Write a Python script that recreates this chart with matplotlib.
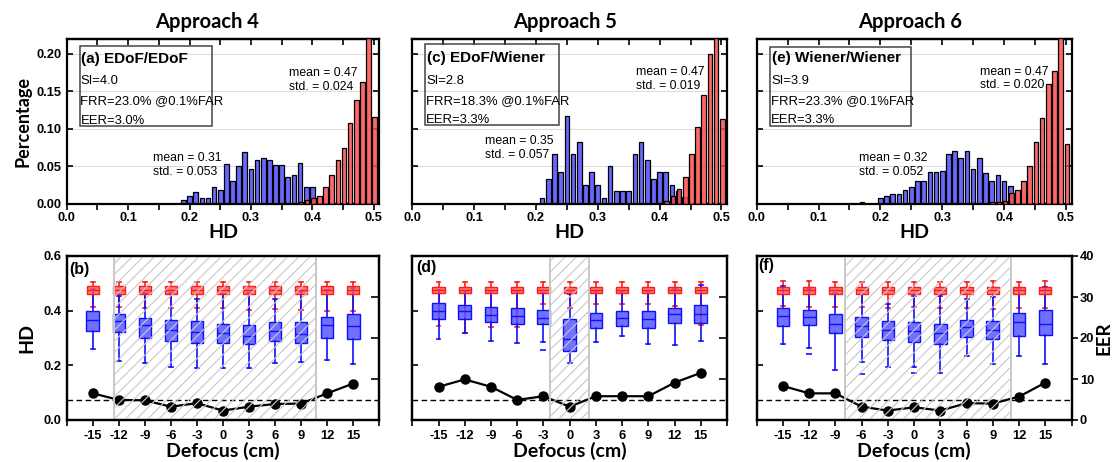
import numpy as np
import matplotlib.pyplot as plt
from matplotlib import font_manager
from matplotlib.patches import Rectangle
from matplotlib.ticker import MultipleLocator, FormatStrFormatter

# keep the regular-width Liberation Sans faces only
font_manager.fontManager.ttflist = [f for f in font_manager.fontManager.ttflist
                                    if 'Narrow' not in f.fname]
plt.rcParams['font.family'] = ['Liberation Sans', 'DejaVu Sans']
plt.rcParams['hatch.linewidth'] = 0.8
plt.rcParams['axes.linewidth'] = 1.6

# ---------------- histogram data (bin width 0.01) ----------------
approach_titles = ['Approach 4', 'Approach 5', 'Approach 6']
hist_tags = ['(a) EDoF/EDoF', '(c) EDoF/Wiener', '(e) Wiener/Wiener']
hist_si = ['SI=4.0', 'SI=2.8', 'SI=3.9']
hist_frr = ['FRR=23.0% @0.1%FAR', 'FRR=18.3% @0.1%FAR', 'FRR=23.3% @0.1%FAR']
hist_eer = ['EER=3.0%', 'EER=3.3%', 'EER=3.3%']
impostor_stats = ['mean = 0.47\nstd. = 0.024', 'mean = 0.47\nstd. = 0.019', 'mean = 0.47\nstd. = 0.020']
genuine_stats = ['mean = 0.31\nstd. = 0.053', 'mean = 0.35\nstd. = 0.057', 'mean = 0.32\nstd. = 0.052']

# first bin centre of each series
blue_start = [0.19, 0.21, 0.17]
red_start = [0.38, 0.40, 0.38]

blue_a = [0.005, 0.011, 0.016, 0.008, 0.008, 0.022, 0.019, 0.053, 0.030, 0.050, 0.069,
          0.047, 0.058, 0.061, 0.058, 0.052, 0.052, 0.036, 0.038, 0.055, 0.022, 0.022]
red_a = [0.003, 0.005, 0.008, 0.011, 0.023, 0.038, 0.059, 0.075, 0.108, 0.139, 0.162, 0.235, 0.116]

blue_c = [0.008, 0.033, 0.067, 0.042, 0.117, 0.067, 0.083, 0.025, 0.042, 0.025, 0.008, 0.050,
          0.017, 0.017, 0.017, 0.067, 0.083, 0.058, 0.033, 0.042, 0.042, 0.025, 0.017, 0.009]
red_c = [0.001, 0.004, 0.010, 0.020, 0.036, 0.066, 0.102, 0.145, 0.200, 0.235, 0.113]

blue_e = [0.002, 0.0, 0.0, 0.008, 0.011, 0.013, 0.013, 0.019, 0.022, 0.030, 0.030, 0.042, 0.042,
          0.044, 0.067, 0.070, 0.061, 0.070, 0.047, 0.061, 0.041, 0.030, 0.038, 0.030, 0.024]
red_e = [0.002, 0.002, 0.004, 0.015, 0.019, 0.030, 0.050, 0.083, 0.115, 0.160, 0.177, 0.235, 0.080]

# ---------------- defocus box plots ----------------
defocus = [-15, -12, -9, -6, -3, 0, 3, 6, 9, 12, 15]
box_tags = ['(b)', '(d)', '(f)']

# rows: whisker low, q1, median, q3, whisker high
blue_b = [[0.259, 0.217, 0.207, 0.193, 0.189, 0.189, 0.191, 0.207, 0.211, 0.220, 0.206],
          [0.326, 0.321, 0.301, 0.290, 0.283, 0.280, 0.277, 0.289, 0.280, 0.300, 0.295],
          [0.365, 0.362, 0.348, 0.329, 0.321, 0.317, 0.307, 0.327, 0.313, 0.346, 0.344],
          [0.399, 0.389, 0.372, 0.366, 0.361, 0.351, 0.349, 0.360, 0.357, 0.378, 0.388],
          [0.478, 0.454, 0.463, 0.466, 0.444, 0.461, 0.463, 0.444, 0.472, 0.476, 0.482]]
red_b = [[0.415, 0.415, 0.411, 0.410, 0.409, 0.409, 0.402, 0.405, 0.402, 0.400, 0.400],
         [0.460, 0.460, 0.460, 0.460, 0.460, 0.460, 0.460, 0.460, 0.460, 0.460, 0.460],
         [0.476, 0.476, 0.476, 0.476, 0.476, 0.476, 0.476, 0.476, 0.476, 0.476, 0.476],
         [0.490, 0.490, 0.490, 0.490, 0.490, 0.490, 0.490, 0.490, 0.490, 0.490, 0.490],
         [0.506, 0.506, 0.506, 0.504, 0.506, 0.506, 0.506, 0.506, 0.506, 0.505, 0.505]]
fliers_b = [[], [], [], [], [], [], [], [], [], [], []]
eer_b = [6.5, 4.9, 4.8, 3.25, 4.1, 2.3, 3.25, 3.9, 4.0, 6.5, 8.9]

blue_d = [[0.298, 0.317, 0.289, 0.283, 0.284, 0.207, 0.285, 0.307, 0.278, 0.274, 0.288],
          [0.368, 0.371, 0.359, 0.351, 0.350, 0.254, 0.335, 0.345, 0.337, 0.355, 0.354],
          [0.399, 0.399, 0.384, 0.379, 0.374, 0.296, 0.366, 0.372, 0.370, 0.388, 0.388],
          [0.427, 0.420, 0.415, 0.410, 0.402, 0.371, 0.393, 0.400, 0.400, 0.411, 0.420],
          [0.476, 0.473, 0.472, 0.472, 0.463, 0.461, 0.472, 0.472, 0.472, 0.478, 0.495]]
red_d = [[0.344, 0.320, 0.339, 0.340, 0.424, 0.410, 0.423, 0.424, 0.423, 0.418, 0.348],
         [0.463, 0.463, 0.463, 0.463, 0.463, 0.463, 0.463, 0.463, 0.463, 0.463, 0.463],
         [0.476, 0.476, 0.476, 0.476, 0.476, 0.476, 0.476, 0.476, 0.476, 0.476, 0.476],
         [0.488, 0.488, 0.488, 0.488, 0.488, 0.488, 0.488, 0.488, 0.488, 0.488, 0.488],
         [0.505, 0.505, 0.505, 0.504, 0.505, 0.505, 0.505, 0.504, 0.505, 0.505, 0.505]]
fliers_d = [[], [], [], [], [0.256], [], [], [], [], [], []]
eer_d = [8.1, 9.9, 8.1, 4.9, 5.8, 3.25, 5.8, 5.8, 5.8, 9.1, 11.5]

blue_f = [[0.278, 0.262, 0.183, 0.213, 0.195, 0.195, 0.171, 0.234, 0.204, 0.234, 0.204],
          [0.343, 0.346, 0.318, 0.302, 0.293, 0.285, 0.279, 0.305, 0.298, 0.307, 0.312],
          [0.380, 0.376, 0.351, 0.343, 0.329, 0.324, 0.317, 0.339, 0.329, 0.360, 0.351],
          [0.409, 0.404, 0.388, 0.378, 0.361, 0.359, 0.351, 0.365, 0.362, 0.390, 0.401],
          [0.491, 0.479, 0.463, 0.460, 0.424, 0.454, 0.454, 0.444, 0.451, 0.482, 0.488]]
red_f = [[0.418, 0.415, 0.415, 0.415, 0.409, 0.413, 0.409, 0.409, 0.406, 0.410, 0.410],
         [0.460, 0.460, 0.460, 0.460, 0.460, 0.460, 0.460, 0.460, 0.460, 0.460, 0.460],
         [0.476, 0.476, 0.476, 0.476, 0.476, 0.476, 0.476, 0.476, 0.476, 0.476, 0.476],
         [0.488, 0.488, 0.488, 0.488, 0.488, 0.488, 0.488, 0.488, 0.488, 0.488, 0.488],
         [0.507, 0.507, 0.505, 0.505, 0.505, 0.505, 0.505, 0.505, 0.507, 0.505, 0.507]]
fliers_f = [[], [0.240], [], [0.168], [], [0.171], [], [], [], [], []]
eer_f = [8.3, 6.5, 6.5, 3.25, 2.3, 3.1, 2.3, 4.1, 4.0, 5.7, 9.1]

eer_threshold = 5.0
# hatched defocus ranges (cm)
shade_ranges = [(-12.5, 10.7), (-2.25, 2.25), (-7.9, 11.1)]

hist_blue = [blue_a, blue_c, blue_e]
hist_red = [red_a, red_c, red_e]
box_blue = [blue_b, blue_d, blue_f]
box_red = [red_b, red_d, red_f]
box_fliers = [fliers_b, fliers_d, fliers_f]
eer_lines = [eer_b, eer_d, eer_f]

# ---------------- layout (pixels -> figure fractions) ----------------
W, H = 1113, 462
cols = [(66.7, 379.3), (412.3, 727.0), (756.7, 1071.5)]
top_rows = (39, 204)
bot_rows = (256, 420)

# text positions inside histogram panels (axes fractions)
box_rects = [(0.044, 0.475, 0.421, 0.483), (0.041, 0.479, 0.425, 0.493), (0.042, 0.475, 0.447, 0.475)]
text_x = [0.047, 0.047, 0.049]
text_y = [(0.879, 0.745, 0.624, 0.503), (0.885, 0.747, 0.624, 0.509), (0.887, 0.747, 0.626, 0.509)]
imp_xy = [(0.712, 0.752), (0.710, 0.756), (0.709, 0.760)]
gen_xy = [(0.276, 0.237), (0.231, 0.340), (0.325, 0.238)]
title_x = [207, 565, 910]
tag_xy = [(0.008, 0.92), (0.011, 0.93), (0.006, 0.94)]

blue_bar = (0.30, 0.30, 1.0, 0.85)
red_bar = (1.0, 0.30, 0.30, 0.85)

lato = ['Lato', 'DejaVu Sans']
note_size = 9.4
stat_size = 8.8

fig = plt.figure(figsize=(W / 100, H / 100), dpi=100)


def frac_rect(col, row):
    x0, x1 = col
    y0, y1 = row
    return [x0 / W, 1 - y1 / H, (x1 - x0) / W, (y1 - y0) / H]


for i in range(3):
    # ---- histograms of Hamming distance ----
    ax = fig.add_axes(frac_rect(cols[i], top_rows))
    bx = blue_start[i] + 0.01 * np.arange(len(hist_blue[i]))
    rx = red_start[i] + 0.01 * np.arange(len(hist_red[i])) + 0.0015
    ax.bar(bx, hist_blue[i], width=0.0075, color=blue_bar, edgecolor='black', linewidth=0.9, zorder=2)
    ax.bar(rx, hist_red[i], width=0.0075, color=red_bar, edgecolor='black', linewidth=0.9, zorder=3)
    ax.set_xlim(0, 0.509)
    ax.set_ylim(0, 0.22)
    ax.xaxis.set_major_locator(MultipleLocator(0.1))
    ax.xaxis.set_minor_locator(MultipleLocator(0.05))
    ax.xaxis.set_major_formatter(FormatStrFormatter('%.1f'))
    ax.yaxis.set_major_locator(MultipleLocator(0.05))
    ax.yaxis.set_major_formatter(FormatStrFormatter('%.2f'))
    ax.grid(axis='y', color='#dddddd', linewidth=0.8, zorder=0)
    ax.set_axisbelow(True)
    ax.tick_params(axis='x', which='both', direction='out', length=4, width=1.2, pad=2)
    ax.tick_params(axis='y', which='both', direction='in', left=True, right=True, length=4, width=1.2)
    for lab in ax.get_xticklabels() + ax.get_yticklabels():
        lab.set_fontweight('bold')
        lab.set_fontsize(9.3)
    if i > 0:
        ax.set_yticklabels([])
    else:
        ax.set_ylabel('Percentage', labelpad=4, family=lato, fontweight='bold', fontsize=13)
    ax.set_xlabel('HD', labelpad=0, family=lato, fontweight='bold', fontsize=14)
    sec = ax.secondary_xaxis('top')
    sec.xaxis.set_major_locator(MultipleLocator(0.1))
    sec.xaxis.set_minor_locator(MultipleLocator(0.05))
    sec.tick_params(axis='x', which='both', direction='in', length=4, width=1.2, labeltop=False)

    rx0, ry0, rw, rh = box_rects[i]
    ax.add_patch(Rectangle((rx0, ry0), rw, rh, transform=ax.transAxes, fill=False,
                           edgecolor='#444444', linewidth=1.1, zorder=5))
    ty = text_y[i]
    ax.text(text_x[i], ty[0], hist_tags[i], transform=ax.transAxes, fontsize=11,
            fontweight='bold', va='center', ha='left', zorder=6)
    for line, yy in zip([hist_si[i], hist_frr[i], hist_eer[i]], ty[1:]):
        ax.text(text_x[i] - 0.003, yy, line, transform=ax.transAxes,
                fontsize=note_size, va='center', zorder=6)
    ax.text(imp_xy[i][0], imp_xy[i][1], impostor_stats[i], transform=ax.transAxes,
            fontsize=stat_size, va='center', linespacing=1.2, zorder=6)
    ax.text(gen_xy[i][0], gen_xy[i][1], genuine_stats[i], transform=ax.transAxes,
            fontsize=stat_size, va='center', linespacing=1.2, zorder=6)
    fig.text(title_x[i] / W, 1 - 22 / H, approach_titles[i], ha='center', va='center',
             family=lato, fontweight='bold', fontsize=14.5)

    # ---- box plots vs defocus with EER on twin axis ----
    bax = fig.add_axes(frac_rect(cols[i], bot_rows))
    for data, face, edge, w, zb, fl in [(box_blue[i], (0.30, 0.30, 1.0, 0.8), '#1010ff', 1.45, 3, box_fliers[i]),
                                        (box_red[i], (1.0, 0.35, 0.35, 0.8), '#ff1a1a', 1.4, 4, None)]:
        stats = []
        for k in range(len(defocus)):
            stats.append(dict(whislo=data[0][k], q1=data[1][k], med=data[2][k],
                              q3=data[3][k], whishi=data[4][k],
                              fliers=fl[k] if fl is not None else []))
        wz = 3.5 if edge == '#1010ff' else 2
        bax.bxp(stats, positions=defocus, widths=w, capwidths=0.45, patch_artist=True,
                manage_ticks=False,
                boxprops=dict(facecolor=face, edgecolor=edge, linewidth=1.0, zorder=zb),
                medianprops=dict(color=edge, linewidth=1.0, zorder=zb + 0.1),
                whiskerprops=dict(color=edge, linewidth=1.2, zorder=wz),
                capprops=dict(color=edge, linewidth=1.2, zorder=wz),
                flierprops=dict(marker='_', markeredgecolor=edge, markersize=4, markeredgewidth=1.2))
    bax.set_xlim(-18, 18)
    bax.set_ylim(0, 0.6)
    bax.set_xticks(np.arange(-18, 19, 3))
    bax.set_xticklabels([''] + [str(v) for v in defocus] + [''])
    bax.yaxis.set_major_locator(MultipleLocator(0.2))
    bax.yaxis.set_major_formatter(FormatStrFormatter('%.1f'))
    bax.tick_params(axis='x', direction='out', length=4, width=1.2, pad=3)
    bax.tick_params(axis='y', direction='in', left=True, right=True, length=4, width=1.2)
    for lab in bax.get_xticklabels() + bax.get_yticklabels():
        lab.set_fontweight('bold')
        lab.set_fontsize(9.3)
    if i > 0:
        bax.set_yticklabels([])
    else:
        bax.set_ylabel('HD', labelpad=6, family=lato, fontweight='bold', fontsize=14)
    bax.set_xlabel('Defocus (cm)', labelpad=0, family=lato, fontweight='bold', fontsize=14)
    bax.text(tag_xy[i][0], tag_xy[i][1], box_tags[i], transform=bax.transAxes,
             fontsize=11.5, fontweight='bold', va='center', ha='left')

    tax = bax.twinx()
    tax.set_ylim(0, 40)
    tax.yaxis.set_major_locator(MultipleLocator(10))
    tax.axhline(eer_threshold, color='black', linestyle='--', linewidth=1.0, dashes=(4, 2.5))
    tax.plot(defocus, eer_lines[i], color='black', linewidth=1.6, marker='o', markersize=6.5)
    if i == 2:
        tax.tick_params(axis='y', direction='out', length=4, width=1.2, pad=2)
        for lab in tax.get_yticklabels():
            lab.set_fontweight('bold')
            lab.set_fontsize(9.3)
        tax.set_ylabel('EER', labelpad=1, family=lato, fontweight='bold', fontsize=13.5)
    else:
        tax.tick_params(axis='y', direction='in', length=6, width=1.2, labelright=False)
    s0, s1 = shade_ranges[i]
    tax.axvspan(s0, s1, facecolor='none', edgecolor='#c8c8c8', hatch='///',
                linewidth=1.4, zorder=10)
    for sp in tax.spines.values():
        sp.set_linewidth(1.6)
        sp.set_zorder(11)

fig.savefig('out.png', dpi=100)
